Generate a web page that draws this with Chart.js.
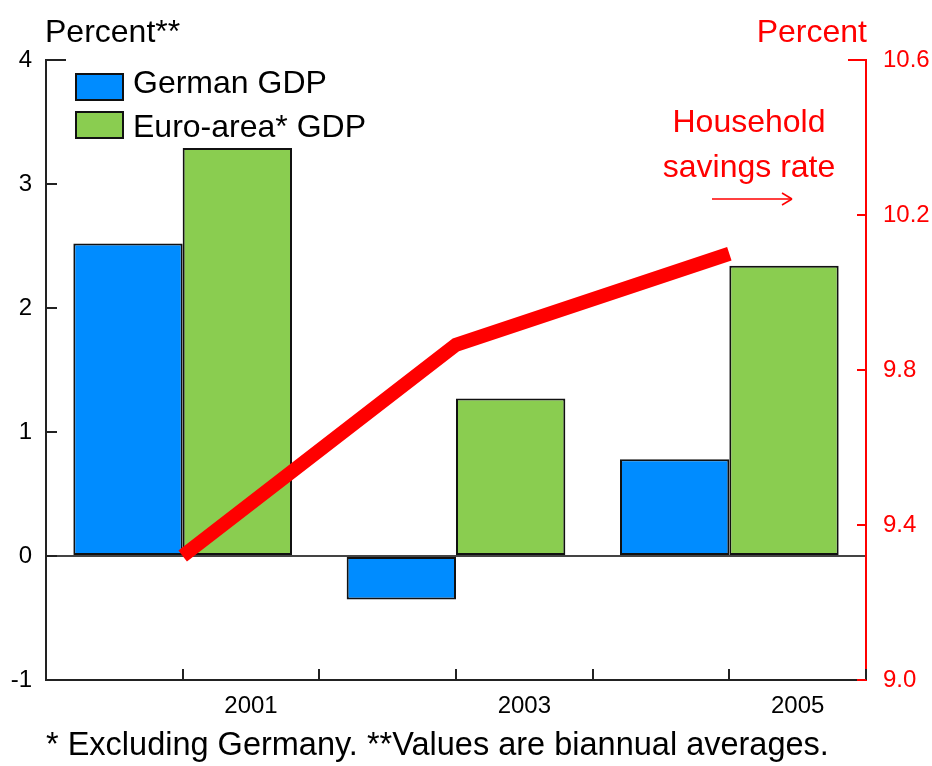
<!DOCTYPE html>
<html>
<head>
<meta charset="utf-8">
<script src="https://cdn.jsdelivr.net/npm/chart.js@4.4.0/dist/chart.umd.min.js"></script>
<style>
    html, body { margin: 0; padding: 0; background: #fff; }
    #wrap { width: 932px; height: 766px; }
</style>
</head>
<body>
<div id="wrap"><canvas id="myChart" width="932" height="766"></canvas></div>
<script>

// data (biannual averages)
var years = ['2001', '2003', '2005'];
var yearTicks = ['', '2001', '', '2003', '', '2005'];
var germanGdp = [2.52, -0.35, 0.78];
var euroGdp = [3.29, 1.27, 2.34];
var savingsRate = [9.32, 9.865, 10.10];

var seriesNames = ['German GDP', 'Euro-area* GDP', 'Household savings rate'];
var leftTitle = 'Percent**';
var rightTitle = 'Percent';
var footnote = '* Excluding Germany. **Values are biannual averages.';

var FONT = '"Liberation Sans", Arial, sans-serif';
var BLUE = 'rgb(0, 140, 255)';
var GREEN = 'rgb(138, 205, 80)';
var RED = 'rgb(255, 0, 0)';


// ticks pointing inwards + all the loose text
var extras = {
    id: 'extras',
    afterDraw: function (chart) {
        var ctx = chart.ctx;
        var a = chart.chartArea;
        var yl = chart.scales.y;
        var yr = chart.scales.y1;
        var xb = chart.scales.x2;

        function seg(x1, y1, x2, y2) {
            ctx.beginPath();
            ctx.moveTo(x1, y1);
            ctx.lineTo(x2, y2);
            ctx.stroke();
        }

        ctx.save();
        ctx.lineWidth = 2;
        ctx.strokeStyle = '#222';
        yl.ticks.forEach(function (t) {
            var py = Math.round(yl.getPixelForValue(t.value));
            seg(a.left, py, a.left + (t.value === yl.max ? 20 : 11), py);
        });
        for (var i = 1; i <= yearTicks.length; i++) {
            var px = Math.round(xb.getPixelForValue(i - 0.5));
            seg(px, a.bottom, px, a.bottom - 11);
        }
        ctx.strokeStyle = RED;
        yr.ticks.forEach(function (t) {
            var py = Math.round(yr.getPixelForValue(t.value));
            seg(a.right, py, a.right - (t.value === yr.max ? 18 : 9), py);
        });

        // legend (inside the plot, top left)
        ctx.lineWidth = 2;
        ctx.strokeStyle = '#111';
        ctx.fillStyle = BLUE;
        ctx.fillRect(76, 74, 47, 26);
        ctx.strokeRect(76, 74, 47, 26);
        ctx.fillStyle = GREEN;
        ctx.fillRect(76, 112, 47, 26);
        ctx.strokeRect(76, 112, 47, 26);

        ctx.font = '32px ' + FONT;
        ctx.textBaseline = 'alphabetic';
        ctx.fillStyle = '#000';
        ctx.textAlign = 'left';
        ctx.fillText(seriesNames[0], 133, 93);
        ctx.fillText(seriesNames[1], 133, 137);

        // axis titles
        ctx.fillText(leftTitle, 45, 42);
        ctx.fillStyle = RED;
        ctx.textAlign = 'right';
        ctx.fillText(rightTitle, 867, 42);

        // savings rate label + arrow
        ctx.textAlign = 'center';
        ctx.fillText('Household', 749, 132);
        ctx.fillText('savings rate', 749, 177);
        ctx.strokeStyle = RED;
        ctx.lineWidth = 1.5;
        seg(712, 199, 792, 199);
        seg(792, 199, 782, 193);
        seg(792, 199, 782, 205);

        // footnote
        ctx.font = '32.5px ' + FONT;
        ctx.fillStyle = '#000';
        ctx.textAlign = 'left';
        ctx.fillText(footnote, 46, 755);
        ctx.restore();
    }
};


var chartArea = document.getElementById('myChart').getContext('2d');

var myChart = new Chart(chartArea, {
    type: 'bar',
    data: {
        labels: years,
        datasets: [{
            type: 'line',
            label: seriesNames[2],
            data: savingsRate,
            yAxisID: 'y1',
            xAxisID: 'x',
            borderColor: RED,
            borderWidth: 14,
            borderCapStyle: 'butt',
            borderJoinStyle: 'miter',
            pointRadius: 0,
            tension: 0,
            clip: false,
            order: 0
        }, {
            label: seriesNames[0],
            data: germanGdp,
            yAxisID: 'y',
            xAxisID: 'x',
            backgroundColor: BLUE,
            borderColor: '#111',
            borderWidth: 2,
            borderSkipped: false,
            order: 1
        }, {
            label: seriesNames[1],
            data: euroGdp,
            yAxisID: 'y',
            xAxisID: 'x',
            backgroundColor: GREEN,
            borderColor: '#111',
            borderWidth: 2,
            borderSkipped: false,
            order: 1
        }]
    },
    options: {
        responsive: false,
        animation: false,
        layout: {
            padding: { top: 60, left: 0, right: 0, bottom: 0 }
        },
        datasets: {
            bar: {
                categoryPercentage: 0.8,
                barPercentage: 1.0
            }
        },
        plugins: {
            legend: { display: false },
            tooltip: { enabled: false },
            title: { display: false }
        },
        scales: {
            x: {
                display: false,
                offset: true
            },
            x2: {
                type: 'category',
                labels: yearTicks,
                position: 'bottom',
                offset: true,
                grid: {
                    display: true,
                    offset: true,
                    drawOnChartArea: false,
                    drawTicks: false
                },
                border: { display: true, color: '#222', width: 2 },
                ticks: {
                    autoSkip: false,
                    maxRotation: 0,
                    padding: 12,
                    color: '#000',
                    font: { family: FONT, size: 24 }
                },
                afterFit: function (scale) {
                    scale.height = 86;
                }
            },
            y: {
                position: 'left',
                min: -1,
                max: 4,
                ticks: {
                    stepSize: 1,
                    padding: 14,
                    color: '#000',
                    font: { family: FONT, size: 24 }
                },
                grid: {
                    drawTicks: false,
                    lineWidth: 2,
                    color: function (c) {
                        return c.tick && c.tick.value === 0 ? '#444' : 'rgba(0,0,0,0)';
                    }
                },
                border: { display: true, color: '#222', width: 2 },
                afterFit: function (scale) {
                    scale.width = 46;
                }
            },
            y1: {
                position: 'right',
                min: 9.0,
                max: 10.6,
                ticks: {
                    stepSize: 0.4,
                    padding: 17,
                    color: RED,
                    font: { family: FONT, size: 24 },
                    callback: function (v) {
                        return Number(v).toFixed(1);
                    }
                },
                grid: { drawOnChartArea: false, drawTicks: false },
                border: { display: true, color: RED, width: 2 },
                afterFit: function (scale) {
                    scale.width = 66;
                }
            }
        }
    },
    plugins: [extras]
});

</script>
</body>
</html>
